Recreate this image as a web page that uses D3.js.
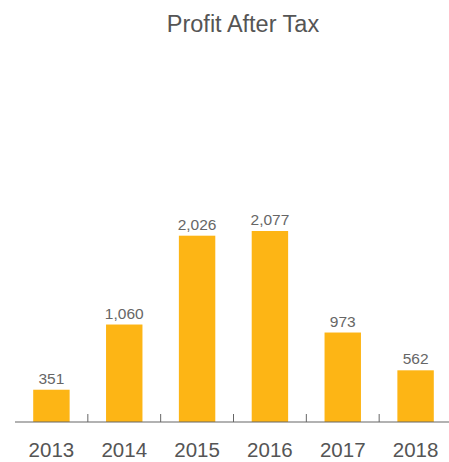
<!DOCTYPE html>
<html>
<head>
<meta charset="utf-8">
<script src="https://cdn.jsdelivr.net/npm/d3@7"></script>
<style>
  body { margin: 0; background: #fff; }
  text { font-family: "Liberation Sans", Arial, sans-serif; }
</style>
</head>
<body>
<svg id="chart" width="449" height="462"></svg>
<script>
const years = ["2013", "2014", "2015", "2016", "2017", "2018"];
const profit = [351, 1060, 2026, 2077, 973, 562];
const title = "Profit After Tax";

const svg = d3.select("#chart");
const baseY = 422;

const x = d3.scaleBand().domain(years).range([15, 452]).paddingInner(0.5).paddingOuter(0.25);
const y = d3.scaleLinear().domain([0, 2077]).range([baseY, 231]);

svg.append("text")
  .attr("x", 243).attr("y", 32)
  .attr("text-anchor", "middle")
  .attr("font-size", 23.5)
  .attr("fill", "#555")
  .text(title);

// bars
svg.selectAll("rect.bar")
  .data(years)
  .enter().append("rect")
  .attr("class", "bar")
  .attr("x", d => x(d))
  .attr("y", (d, i) => y(profit[i]))
  .attr("width", x.bandwidth())
  .attr("height", (d, i) => baseY - y(profit[i]))
  .attr("fill", "#fdb515");

// value labels above bars
svg.selectAll("text.val")
  .data(years)
  .enter().append("text")
  .attr("class", "val")
  .attr("x", d => x(d) + x.bandwidth() / 2)
  .attr("y", (d, i) => y(profit[i]) - 6)
  .attr("text-anchor", "middle")
  .attr("font-size", 15.5)
  .attr("fill", "#666")
  .text((d, i) => d3.format(",")(profit[i]));

// axis
const axis = svg.append("g");
axis.append("line")
  .attr("x1", 15).attr("x2", 449)
  .attr("y1", baseY).attr("y2", baseY)
  .attr("stroke", "#666").attr("stroke-width", 1.2);

// ticks sit between bands
const gap = (x.step() - x.bandwidth()) / 2;
axis.selectAll("line.tick")
  .data(years.slice(1))
  .enter().append("line")
  .attr("class", "tick")
  .attr("x1", d => x(d) - gap)
  .attr("x2", d => x(d) - gap)
  .attr("y1", baseY - 8).attr("y2", baseY)
  .attr("stroke", "#666").attr("stroke-width", 1);

axis.selectAll("text.year")
  .data(years)
  .enter().append("text")
  .attr("class", "year")
  .attr("x", d => x(d) + x.bandwidth() / 2)
  .attr("y", 457)
  .attr("text-anchor", "middle")
  .attr("font-size", 20.5)
  .attr("fill", "#555")
  .text(d => d);
</script>
</body>
</html>
